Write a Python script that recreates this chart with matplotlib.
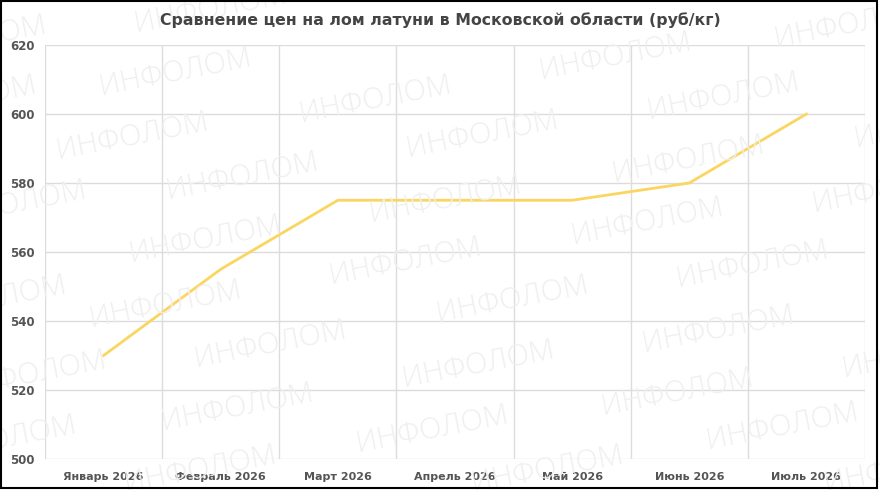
import matplotlib
matplotlib.use("Agg")
import matplotlib.pyplot as plt
from matplotlib.patches import Rectangle

months = ["Январь 2026", "Февраль 2026", "Март 2026", "Апрель 2026",
          "Май 2026", "Июнь 2026", "Июль 2026"]
prices = [530, 555, 575, 575, 575, 580, 600]
yticks = [500, 520, 540, 560, 580, 600, 620]
title = "Сравнение цен на лом латуни в Московской области (руб/кг)"
watermark = "ИНФОЛОМ"

W, H = 880, 490
fig = plt.figure(figsize=(W / 100, H / 100), dpi=100)
fig.patch.set_facecolor("white")

# watermarks (pixel centres in figure space, decorative)
wm_centres = [(210, 10), (175, 73), (132, 137), (242, 177), (205, 240), (165, 305),
              (270, 345), (237, 408), (200, 470),
              (375, 100), (482, 135), (445, 200), (405, 262), (512, 300), (478, 365),
              (432, 430), (547, 470),
              (615, 57), (723, 97), (688, 160), (647, 222), (752, 265), (718, 330),
              (677, 393), (782, 427),
              (850, 25), (930, 125), (888, 190), (918, 355), (900, 470),
              (-30, 40), (10, 205), (30, 375), (0, 440), (-40, 100), (-10, 300)]
for cx, cy in wm_centres:
    fig.text(cx / W, 1 - cy / H, watermark, fontsize=21, color="#efefef",
             rotation=11, ha="center", va="center", family=["Open Sans", "DejaVu Sans"],
             fontweight="light", zorder=0)

ax = fig.add_axes([45 / W, 1 - 459 / H, 820 / W, 414 / H])
ax.set_facecolor("none")
x = list(range(len(months)))
ax.plot(x, prices, color="#fad660", lw=2.0, solid_joinstyle="round", zorder=3)

ax.set_xlim(-0.5, len(months) - 0.5)
ax.set_ylim(yticks[0], yticks[-1])
ax.set_yticks(yticks)
ax.set_xticks(x)
ax.set_xticklabels(months)
ax.set_xticks([i - 0.5 for i in range(len(months) + 1)], minor=True)
ax.grid(False)
ax.grid(which="minor", axis="x", color="#dcdcdc", lw=1)
ax.grid(which="major", axis="y", color="#dcdcdc", lw=1)
for s in ax.spines.values():
    s.set_visible(False)
ax.tick_params(which="both", length=0)
ax.tick_params(axis="x", pad=9, labelsize=8, labelcolor="#555555")
ax.tick_params(axis="y", pad=0, labelsize=8.5, labelcolor="#555555")
for lab in ax.get_xticklabels() + ax.get_yticklabels():
    lab.set_fontweight("bold")
    lab.set_family("DejaVu Sans")
for lab in ax.get_yticklabels():
    lab.set_horizontalalignment("left")
    lab.set_x(-35 / 820)

fig.text(440 / W, 1 - 20 / H, title, ha="center", va="center", fontsize=11.3,
         fontweight="bold", color="#444444", family="DejaVu Sans")

fig.add_artist(Rectangle((1 / W, 2 / H), 876 / W, 487 / H, transform=fig.transFigure,
                         fill=False, edgecolor="black", lw=1.5))

fig.savefig("out.png", dpi=100)
